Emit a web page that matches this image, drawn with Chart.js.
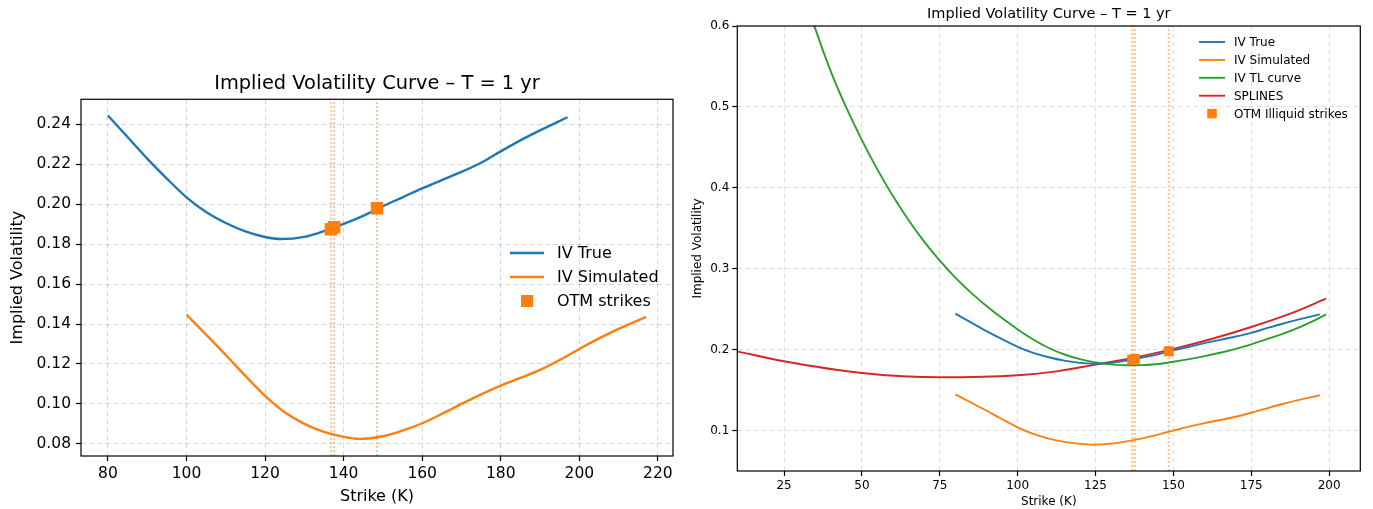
<!DOCTYPE html>
<html>
<head>
<meta charset="utf-8">
<script src="https://cdn.jsdelivr.net/npm/chart.js@4.4.1/dist/chart.umd.min.js"></script>
<style>
  html, body { margin: 0; padding: 0; background: #fff; }
  #leftChart { position: absolute; left: 0; top: 0; }
  #rightChart { position: absolute; left: 685px; top: 0; }
</style>
</head>
<body>
<canvas id="leftChart" width="685" height="509"></canvas>
<canvas id="rightChart" width="688" height="509"></canvas>
<script>
// ---- data ----
const strikesTrue = [80, 85, 90, 95, 100, 105, 110, 115, 120, 124, 130, 135, 140, 145, 150, 155, 160, 165, 170, 175, 180, 185, 190, 197];
const ivTrue = [0.2445, 0.2337, 0.2229, 0.2129, 0.2035, 0.1961, 0.1906, 0.1864, 0.1836, 0.1826, 0.1837, 0.1866, 0.1902, 0.1942, 0.1990, 0.2035, 0.2080, 0.2121, 0.2162, 0.2208, 0.2265, 0.2320, 0.2370, 0.2436];

// the simulated curve is the same on both panels, only its strikes differ
const strikesSimLeft = [100, 105, 110, 115, 120, 125, 130, 135, 140, 144, 150, 155, 160, 165, 170, 175, 180, 185, 190, 195, 200, 205, 210, 217];
const strikesSimRight = [80, 85, 90, 95, 100, 105, 110, 115, 120, 124, 130, 135, 140, 145, 150, 155, 160, 165, 170, 175, 180, 185, 190, 197];
const ivSim = [0.1447, 0.1347, 0.1245, 0.1140, 0.1040, 0.0958, 0.0900, 0.0860, 0.0835, 0.0825, 0.0838, 0.0866, 0.0903, 0.0950, 0.1000, 0.1048, 0.1092, 0.1130, 0.1170, 0.1220, 0.1275, 0.1328, 0.1376, 0.1436];

const strikesTL = [30, 35, 40, 45, 50, 55, 60, 65, 70, 75, 80, 85, 90, 95, 100, 105, 110, 115, 120, 125, 130, 135, 140, 145, 150, 155, 160, 165, 170, 175, 180, 185, 190, 195, 199];
const ivTL = [0.658, 0.597, 0.544, 0.499, 0.459, 0.4225, 0.3895, 0.360, 0.3335, 0.310, 0.289, 0.2705, 0.254, 0.239, 0.2250, 0.2125, 0.2020, 0.1940, 0.1883, 0.1843, 0.1818, 0.1807, 0.1808, 0.1823, 0.1850, 0.1882, 0.1920, 0.1962, 0.2010, 0.2065, 0.2130, 0.2195, 0.2270, 0.2355, 0.2435];

const strikesSpl = [10, 25, 50, 75, 100, 112.5, 125, 137, 150, 162.5, 175, 187.5, 199];
const ivSpl = [0.1979, 0.1856, 0.1712, 0.1658, 0.1683, 0.1732, 0.1815, 0.1897, 0.2009, 0.2135, 0.2280, 0.2445, 0.2630];

const otmStrikes = [136.75, 137.6, 148.5];
const otmIV = [0.1875, 0.1885, 0.198];

const leftXTicks = [80, 100, 120, 140, 160, 180, 200, 220];
const leftYTicks = [0.08, 0.10, 0.12, 0.14, 0.16, 0.18, 0.20, 0.22, 0.24];
const rightXTicks = [25, 50, 75, 100, 125, 150, 175, 200];
const rightYTicks = [0.1, 0.2, 0.3, 0.4, 0.5, 0.6];

const titleText = 'Implied Volatility Curve \u2013 T = 1 yr';
const FONT = "'DejaVu Sans', sans-serif";
const BLUE = '#1f77b4', ORANGE = '#ff7f0e', GREEN = '#2ca02c', RED = '#d62728';

function pts(xs, ys) {
    return xs.map((x, i) => ({ x: x, y: ys[i] }));
}

function curve(xs, ys, color, width) {
    return {
        data: pts(xs, ys), showLine: true, borderColor: color, backgroundColor: color,
        borderWidth: width, pointRadius: 0, cubicInterpolationMode: 'monotone', order: 1
    };
}

function vlines(yMin, yMax, width) {
    return otmStrikes.map(k => ({
        data: [{ x: k, y: yMin }, { x: k, y: yMax }], showLine: true,
        borderColor: 'rgba(255,127,14,0.45)', borderWidth: width, borderDash: [2, 2],
        pointRadius: 0, order: 2
    }));
}

function squares(radius) {
    return {
        data: pts(otmStrikes, otmIV), showLine: false, pointStyle: 'rect',
        pointRadius: radius, pointBackgroundColor: ORANGE, pointBorderWidth: 0, order: 0
    };
}

// box frame like matplotlib spines
const framePlugin = {
    id: 'frame',
    afterDatasetsDraw(chart) {
        const a = chart.chartArea, ctx = chart.ctx;
        ctx.save();
        ctx.strokeStyle = '#000';
        ctx.lineWidth = 1.2;
        ctx.strokeRect(a.left, a.top, a.right - a.left, a.bottom - a.top);
        ctx.restore();
    }
};

// center the title over the plot area, not the canvas
const centerTitle = {
    id: 'centerTitle',
    afterLayout(chart) {
        const t = chart.titleBlock;
        if (t) {
            t.left = chart.chartArea.left;
            t.right = chart.chartArea.right;
            t.width = t.right - t.left;
        }
    }
};

// legend drawn inside the axes, no frame
const innerLegend = {
    id: 'innerLegend',
    afterDraw(chart, args, o) {
        const ctx = chart.ctx;
        ctx.save();
        ctx.font = o.font;
        ctx.textBaseline = 'middle';
        o.items.forEach((it, i) => {
            const y = o.y + i * o.rowGap;
            if (it.kind === 'line') {
                ctx.strokeStyle = it.color;
                ctx.lineWidth = o.lineWidth;
                ctx.beginPath();
                ctx.moveTo(o.x, y);
                ctx.lineTo(o.x + o.lineLen, y);
                ctx.stroke();
            } else {
                ctx.fillStyle = it.color;
                ctx.fillRect(o.x + o.lineLen / 2 - o.sq / 2, y - o.sq / 2, o.sq, o.sq);
            }
            ctx.fillStyle = '#000';
            ctx.fillText(it.label, o.x + o.textOff, y + 1);
        });
        ctx.restore();
    }
};

function axis(opts) {
    return {
        type: 'linear', min: opts.min, max: opts.max,
        afterBuildTicks: s => { s.ticks = opts.ticks.map(v => ({ value: v })); },
        afterFit: s => { if (opts.horizontal) s.height = opts.size; else s.width = opts.size; },
        ticks: {
            color: '#000', font: { family: FONT, size: opts.tickSize }, padding: opts.tickPad,
            autoSkip: false, maxRotation: 0,
            callback: v => opts.fmt(v)
        },
        grid: {
            color: opts.gridColor, lineWidth: 1, tickLength: 5, tickColor: '#000', tickWidth: 1.2
        },
        border: { display: false, dash: [5, 3] },
        title: {
            display: true, text: opts.title, color: '#000',
            font: { family: FONT, size: opts.titleSize }, padding: opts.titlePad
        }
    };
}

Chart.defaults.animation = false;
Chart.defaults.events = [];

new Chart(document.getElementById('leftChart'), {
    type: 'scatter',
    data: {
        datasets: [
            curve(strikesTrue, ivTrue, BLUE, 2.4),
            curve(strikesSimLeft, ivSim, ORANGE, 2.4),
            squares(8.8),
            ...vlines(0.0739, 0.2526, 2)
        ]
    },
    options: {
        responsive: false, devicePixelRatio: 1,
        layout: { padding: { left: 0, right: 12, top: 0, bottom: 0 } },
        plugins: {
            legend: { display: false }, tooltip: { enabled: false },
            title: { display: true, text: titleText, color: '#000', font: { family: FONT, size: 19.4, weight: 'normal' }, padding: { top: 72, bottom: 4 } },
            innerLegend: {
                x: 510, y: 253, rowGap: 24, lineLen: 34, textOff: 47, sq: 12, lineWidth: 2.4,
                font: "16px 'DejaVu Sans', sans-serif",
                items: [
                    { label: 'IV True', color: BLUE, kind: 'line' },
                    { label: 'IV Simulated', color: ORANGE, kind: 'line' },
                    { label: 'OTM strikes', color: ORANGE, kind: 'square' }
                ]
            }
        },
        scales: {
            x: axis({ min: 73.15, max: 223.85, ticks: leftXTicks, fmt: v => String(v), horizontal: true, size: 53,
                tickSize: 15.5, tickPad: 4, gridColor: 'rgba(0,0,0,0.16)', title: 'Strike (K)', titleSize: 16, titlePad: { top: 0, bottom: 3 } }),
            y: axis({ min: 0.0739, max: 0.2526, ticks: leftYTicks, fmt: v => v.toFixed(2), size: 81,
                tickSize: 15.5, tickPad: 5, gridColor: 'rgba(0,0,0,0.16)', title: 'Implied Volatility', titleSize: 16, titlePad: { top: 8, bottom: 0 } })
        }
    },
    plugins: [framePlugin, centerTitle, innerLegend]
});

new Chart(document.getElementById('rightChart'), {
    type: 'scatter',
    data: {
        datasets: [
            curve(strikesTrue, ivTrue, BLUE, 1.9),
            curve(strikesSimRight, ivSim, ORANGE, 1.9),
            curve(strikesTL, ivTL, GREEN, 1.9),
            curve(strikesSpl, ivSpl, RED, 1.9),
            squares(7),
            ...vlines(0.05, 0.6, 2)
        ]
    },
    options: {
        responsive: false, devicePixelRatio: 1,
        layout: { padding: { left: 0, right: 12.7, top: 0, bottom: 0 } },
        plugins: {
            legend: { display: false }, tooltip: { enabled: false },
            title: { display: true, text: titleText, color: '#000', font: { family: FONT, size: 14.5, weight: 'normal' }, padding: { top: 6, bottom: 2.6 } },
            innerLegend: {
                x: 514, y: 42, rowGap: 17.9, lineLen: 26, textOff: 35, sq: 9.5, lineWidth: 1.9,
                font: "12px 'DejaVu Sans', sans-serif",
                items: [
                    { label: 'IV True', color: BLUE, kind: 'line' },
                    { label: 'IV Simulated', color: ORANGE, kind: 'line' },
                    { label: 'IV TL curve', color: GREEN, kind: 'line' },
                    { label: 'SPLINES', color: RED, kind: 'line' },
                    { label: 'OTM Illiquid strikes', color: ORANGE, kind: 'square' }
                ]
            }
        },
        scales: {
            x: axis({ min: 10, max: 210, ticks: rightXTicks, fmt: v => String(v), horizontal: true, size: 38,
                tickSize: 12, tickPad: 3, gridColor: 'rgba(0,0,0,0.12)', title: 'Strike (K)', titleSize: 12, titlePad: { top: 0, bottom: 0 } }),
            y: axis({ min: 0.05, max: 0.6, ticks: rightYTicks, fmt: v => v.toFixed(1), size: 52.3,
                tickSize: 12, tickPad: 3, gridColor: 'rgba(0,0,0,0.12)', title: 'Implied Volatility', titleSize: 12, titlePad: { top: 5.5, bottom: 0 } })
        }
    },
    plugins: [framePlugin, centerTitle, innerLegend]
});
</script>
</body>
</html>
